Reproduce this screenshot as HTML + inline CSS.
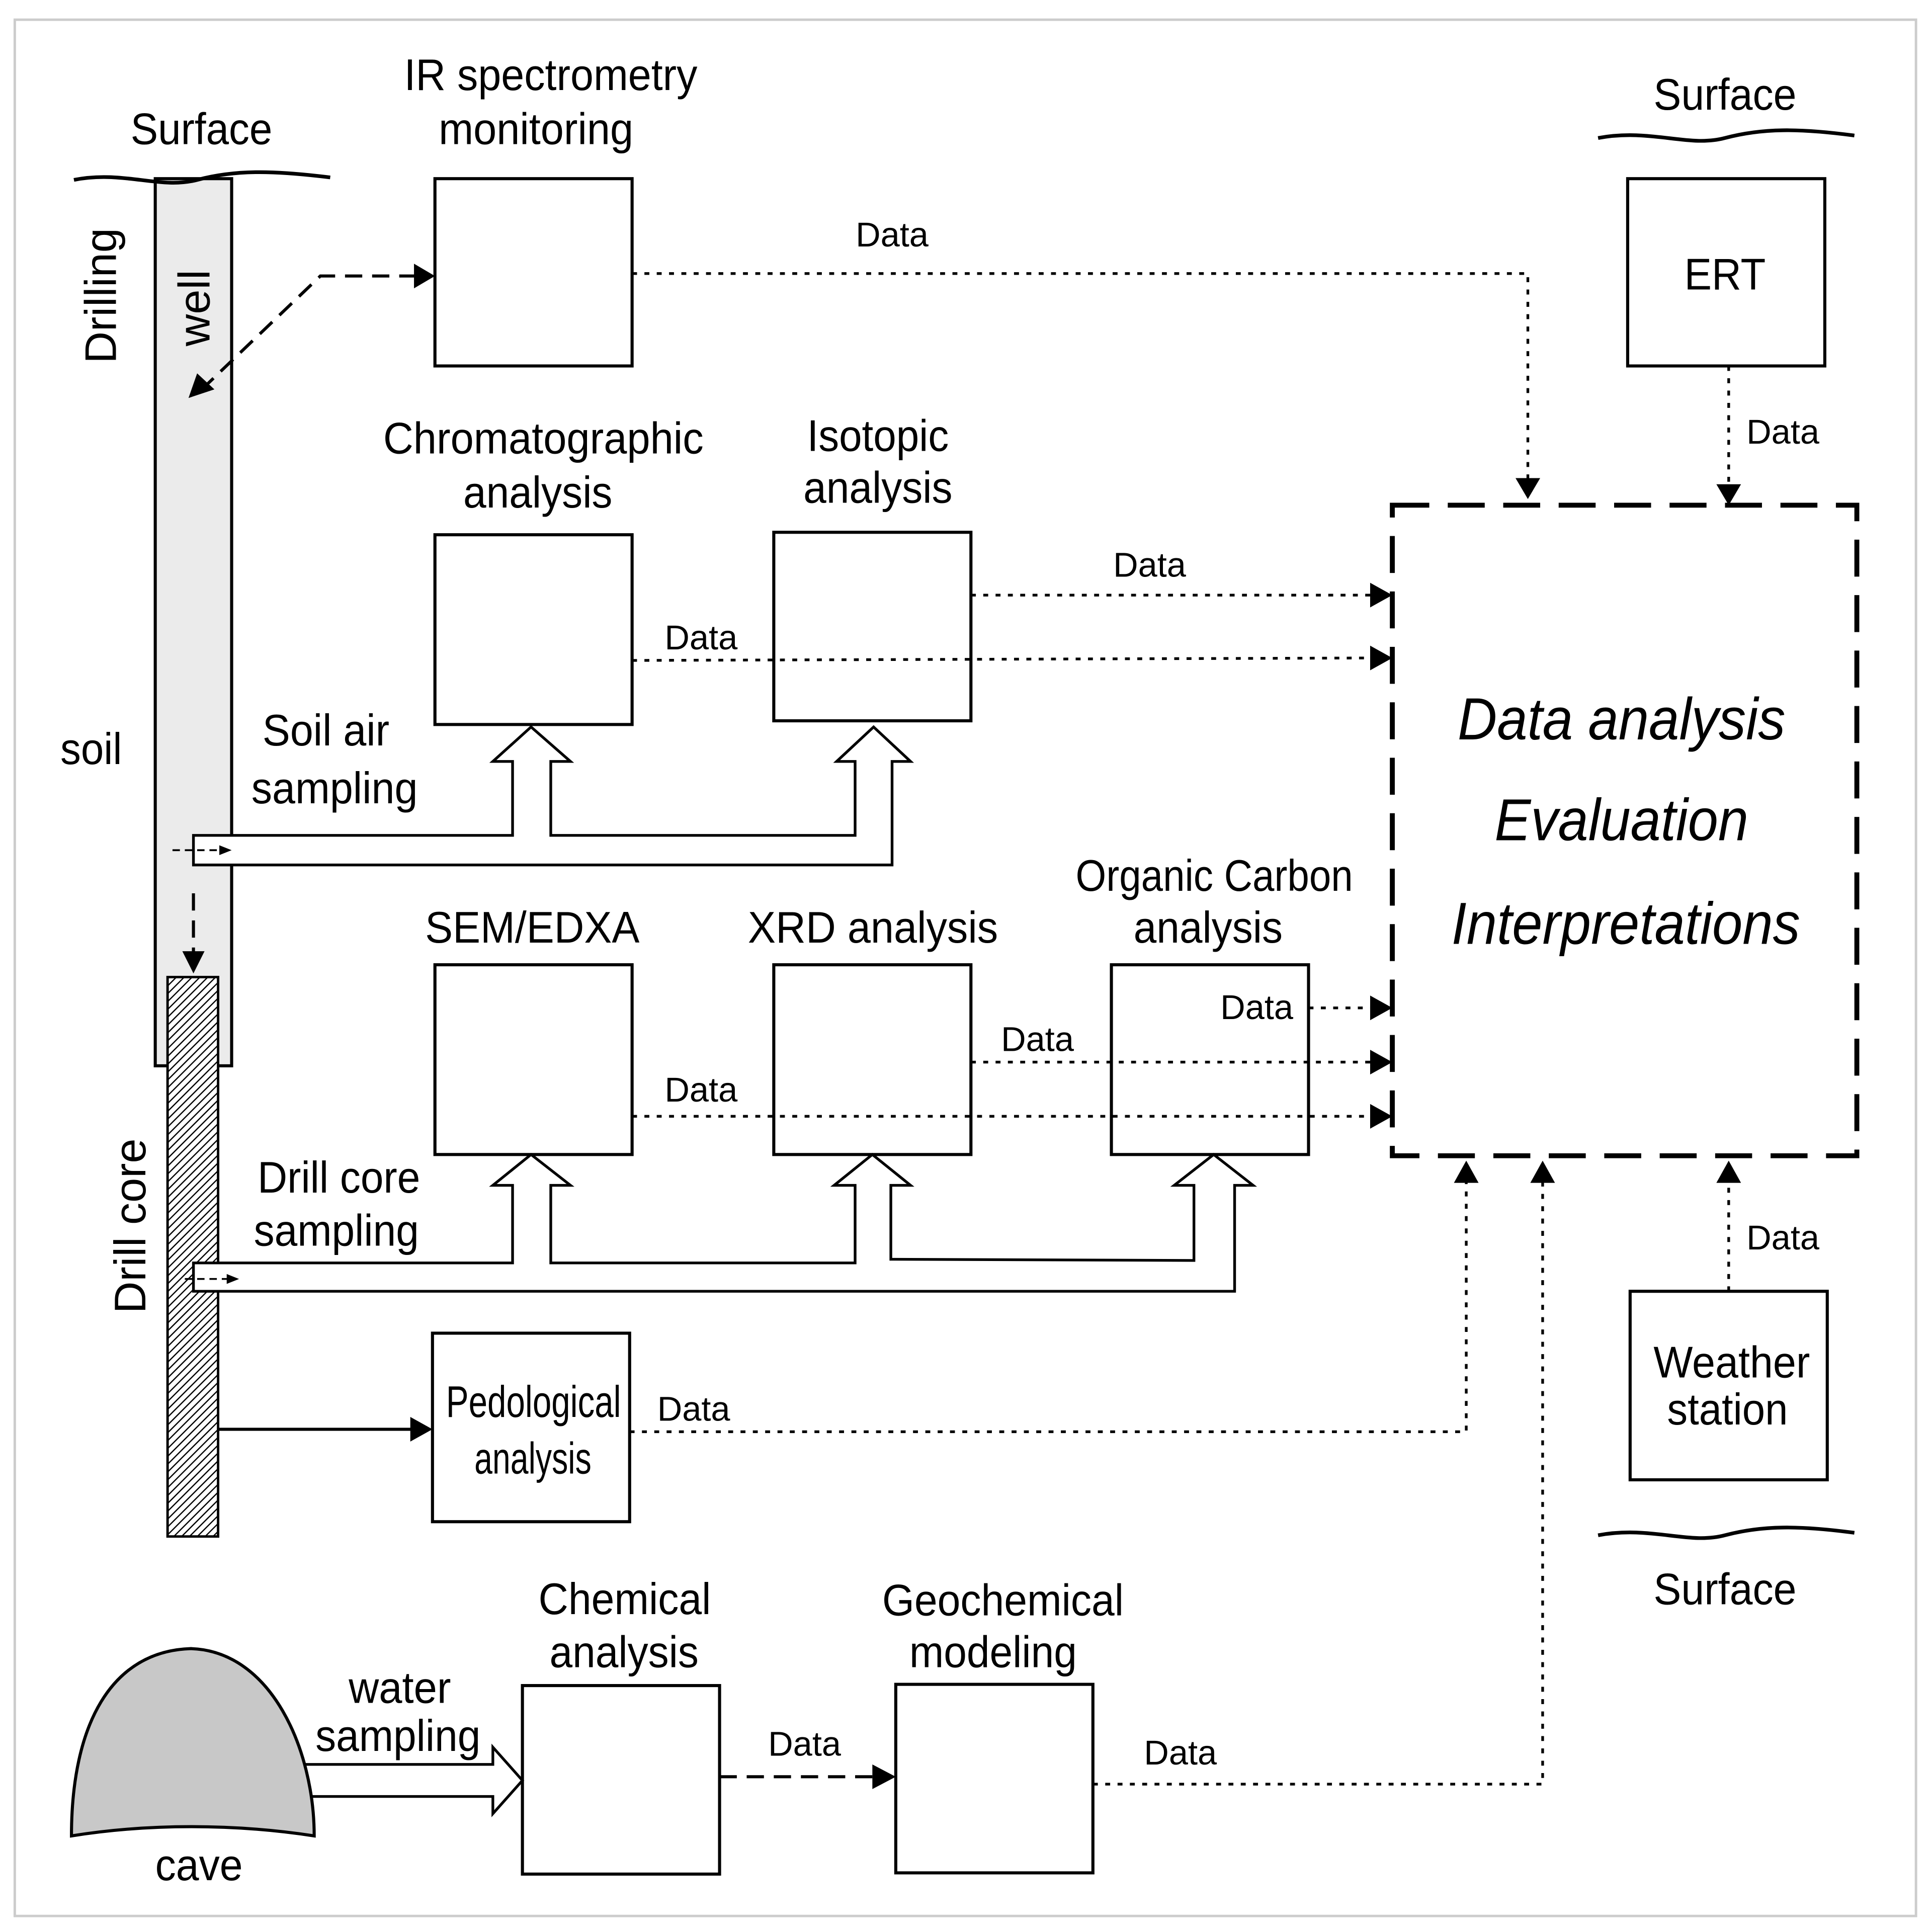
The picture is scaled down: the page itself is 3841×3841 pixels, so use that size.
<!DOCTYPE html>
<html><head><meta charset="utf-8"><style>
html,body{margin:0;padding:0;background:#fff}
svg{display:block}
text{font-family:"Liberation Sans",sans-serif;fill:#000}
</style></head><body>
<svg width="3841" height="3841" viewBox="0 0 1568 1568" xmlns="http://www.w3.org/2000/svg">
<defs>
<pattern id="hatch" width="4.5" height="4.5" patternUnits="userSpaceOnUse" patternTransform="rotate(45)">
<rect width="4.5" height="4.5" fill="#fff"/><line x1="0" y1="0" x2="0" y2="4.5" stroke="#000" stroke-width="2"/>
</pattern>
</defs>
<rect x="0" y="0" width="1568" height="1568" fill="#fff"/>
<rect x="12" y="16" width="1543" height="1539" fill="none" stroke="#ccc" stroke-width="2"/>

<rect x="126" y="145" width="62" height="720" fill="#ebebeb" stroke="#000" stroke-width="2.5"/>
<rect x="136" y="793" width="41" height="454" fill="url(#hatch)" stroke="#000" stroke-width="2"/>

<g fill="none" stroke="#000" stroke-width="3">
<path d="M60 146 C100 138 130 154 160 146 S220 138 268 144"/>
<path d="M1297 112 C1340 104 1370 120 1400 112 S1460 104 1505 110"/>
<path d="M1297 1246 C1340 1238 1370 1254 1400 1246 S1460 1238 1505 1244"/>
</g>

<g fill="#fff" stroke="#000" stroke-width="2.5">
<rect x="353" y="145" width="160" height="152"/>
<rect x="353" y="434" width="160" height="154"/>
<rect x="628" y="432" width="160" height="153"/>
<rect x="353" y="783" width="160" height="154"/>
<rect x="628" y="783" width="160" height="154"/>
<rect x="902" y="783" width="160" height="154"/>
<rect x="351" y="1082" width="160" height="153"/>
<rect x="424" y="1368" width="160" height="153"/>
<rect x="727" y="1367" width="160" height="153"/>
<rect x="1321" y="145" width="160" height="152"/>
<rect x="1323" y="1048" width="160" height="153"/>
</g>
<rect x="1130" y="410" width="377" height="528" fill="none" stroke="#000" stroke-width="4" stroke-dasharray="30 15"/>

<g fill="#fff" stroke="#000" stroke-width="2.2">
<path d="M157 702 L724 702 L724 618 L739 618 L709 590 L679 618 L694 618 L694 678 L447 678 L447 618 L463 618 L431 590 L400 618 L416 618 L416 678 L157 678 Z"/>
<path d="M157 1048 L1002 1048 L1002 962 L1017 962 L985 937 L953 962 L969 962 L969 1023 L723 1022 L723 962 L739 962 L708 937 L677 962 L694 962 L694 1025 L447 1025 L447 962 L463 962 L431 937 L400 962 L416 962 L416 1025 L157 1025 Z"/>
<path d="M220 1432 L400 1432 L400 1418 L424 1445 L400 1472 L400 1458 L220 1458 Z"/>
</g>

<path d="M58 1490 C58 1400 90 1340 155 1338 C220 1340 255 1420 255 1490 C190 1480 120 1480 58 1490 Z" fill="#c8c8c8" stroke="#000" stroke-width="2.5"/>

<g fill="none" stroke="#000" stroke-width="2.2" stroke-dasharray="4 6">
<path d="M513 222 L1240 222 L1240 390"/>
<path d="M1403 297 L1403 395"/>
<path d="M788 483 L1115 483"/>
<path d="M513 536 L1115 534"/>
<path d="M1062 818 L1115 818"/>
<path d="M788 862 L1115 862"/>
<path d="M513 906 L1115 906"/>
<path d="M511 1162 L1190 1162 L1190 958"/>
<path d="M887 1448 L1252 1448 L1252 958"/>
<path d="M1403 1048 L1403 958"/>
</g>
<g fill="#000">
<polygon points="1230,388 1250,388 1240,405"/>
<polygon points="1393,393 1413,393 1403,410"/>
<polygon points="1112,473 1130,483 1112,493"/>
<polygon points="1112,524 1130,534 1112,544"/>
<polygon points="1112,808 1130,818 1112,828"/>
<polygon points="1112,852 1130,862 1112,872"/>
<polygon points="1112,896 1130,906 1112,916"/>
<polygon points="1180,960 1200,960 1190,942"/>
<polygon points="1242,960 1262,960 1252,942"/>
<polygon points="1393,960 1413,960 1403,942"/>
</g>

<g fill="none" stroke="#000" stroke-width="2.5" stroke-dasharray="14 8">
<path d="M338 224 L260 224 L168 312"/>
<path d="M584 1442 L710 1442"/>
<path d="M157 725 L157 775"/>
</g>
<g fill="none" stroke="#000" stroke-width="1.5" stroke-dasharray="6 4">
<path d="M140 690 L180 690"/>
<path d="M150 1038 L185 1038"/>
</g>
<g fill="#000">
<polygon points="336,214 353,224 336,234"/>
<polygon points="153,323 160,303 174,316"/>
<polygon points="708,1432 727,1442 708,1452"/>
<polygon points="148,772 166,772 157,790"/>
<polygon points="178,686 188,690 178,694"/>
<polygon points="184,1034 194,1038 184,1042"/>
</g>
<line x1="177" y1="1160" x2="335" y2="1160" stroke="#000" stroke-width="2.5"/>
<polygon points="333,1150 351,1160 333,1170" fill="#000"/>

<g font-size="36" lengthAdjust="spacingAndGlyphs">
<text x="106" y="117" textLength="115" lengthAdjust="spacingAndGlyphs">Surface</text>
<text x="1342" y="89" textLength="116" lengthAdjust="spacingAndGlyphs">Surface</text>
<text x="1342" y="1302" textLength="116" lengthAdjust="spacingAndGlyphs">Surface</text>
<text x="328" y="73" textLength="238" lengthAdjust="spacingAndGlyphs">IR spectrometry</text>
<text x="356" y="117" textLength="158" lengthAdjust="spacingAndGlyphs">monitoring</text>
<text x="311" y="368" textLength="260" lengthAdjust="spacingAndGlyphs">Chromatographic</text>
<text x="376" y="412" textLength="121" lengthAdjust="spacingAndGlyphs">analysis</text>
<text x="655" y="366" textLength="115" lengthAdjust="spacingAndGlyphs">Isotopic</text>
<text x="652" y="408" textLength="121" lengthAdjust="spacingAndGlyphs">analysis</text>
<text x="345" y="765" textLength="174" lengthAdjust="spacingAndGlyphs">SEM/EDXA</text>
<text x="607" y="765" textLength="203" lengthAdjust="spacingAndGlyphs">XRD analysis</text>
<text x="873" y="723" textLength="225" lengthAdjust="spacingAndGlyphs">Organic Carbon</text>
<text x="920" y="765" textLength="121" lengthAdjust="spacingAndGlyphs">analysis</text>
<text x="213" y="605" textLength="103" lengthAdjust="spacingAndGlyphs">Soil air</text>
<text x="204" y="652" textLength="135" lengthAdjust="spacingAndGlyphs">sampling</text>
<text x="209" y="968" textLength="132" lengthAdjust="spacingAndGlyphs">Drill core</text>
<text x="206" y="1011" textLength="134" lengthAdjust="spacingAndGlyphs">sampling</text>
<text x="49" y="620" textLength="50" lengthAdjust="spacingAndGlyphs">soil</text>
<text x="437" y="1310" textLength="140" lengthAdjust="spacingAndGlyphs">Chemical</text>
<text x="446" y="1353" textLength="121" lengthAdjust="spacingAndGlyphs">analysis</text>
<text x="716" y="1311" textLength="196" lengthAdjust="spacingAndGlyphs">Geochemical</text>
<text x="738" y="1353" textLength="136" lengthAdjust="spacingAndGlyphs">modeling</text>
<text x="283" y="1382" textLength="83" lengthAdjust="spacingAndGlyphs">water</text>
<text x="256" y="1421" textLength="134" lengthAdjust="spacingAndGlyphs">sampling</text>
<text x="126" y="1526" textLength="71" lengthAdjust="spacingAndGlyphs">cave</text>
<text x="1367" y="235" textLength="66" lengthAdjust="spacingAndGlyphs">ERT</text>
<text x="1342" y="1118" textLength="127" lengthAdjust="spacingAndGlyphs">Weather</text>
<text x="1353" y="1156" textLength="98" lengthAdjust="spacingAndGlyphs">station</text>
<text x="362" y="1150" textLength="142" lengthAdjust="spacingAndGlyphs">Pedological</text>
<text x="385" y="1196" textLength="95" lengthAdjust="spacingAndGlyphs">analysis</text>
<text transform="translate(94,240) rotate(-90)" text-anchor="middle">Drilling</text>
<text transform="translate(170,250) rotate(-90)" text-anchor="middle">well</text>
<text transform="translate(118,995) rotate(-90)" text-anchor="middle">Drill core</text>
</g>
<g font-size="28" text-anchor="middle">
<text x="724" y="200">Data</text>
<text x="1447" y="360">Data</text>
<text x="933" y="468">Data</text>
<text x="569" y="527">Data</text>
<text x="1020" y="827">Data</text>
<text x="842" y="853">Data</text>
<text x="569" y="894">Data</text>
<text x="563" y="1153">Data</text>
<text x="653" y="1425">Data</text>
<text x="958" y="1432">Data</text>
<text x="1447" y="1014">Data</text>
</g>
<g font-size="48" font-style="italic">
<text x="1183" y="600" textLength="266" lengthAdjust="spacingAndGlyphs">Data analysis</text>
<text x="1213" y="682" textLength="206" lengthAdjust="spacingAndGlyphs">Evaluation</text>
<text x="1178" y="766" textLength="283" lengthAdjust="spacingAndGlyphs">Interpretations</text>
</g>
</svg>
</body></html>
